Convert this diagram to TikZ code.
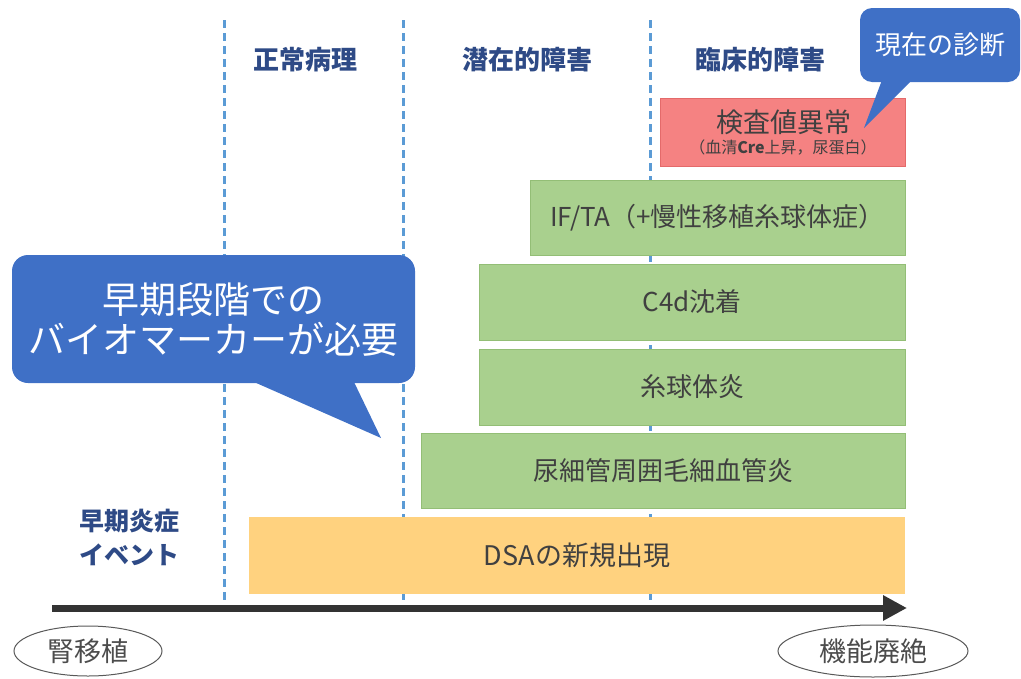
\documentclass[tikz,border=0pt]{standalone}
\usepackage{fontspec}
\newfontfamily\jp{Noto Sans CJK JP}
\usetikzlibrary{arrows.meta,shapes.geometric}
\definecolor{dashblue}{HTML}{5B9BD5}
\definecolor{headblue}{HTML}{2E4A86}
\definecolor{calloutblue}{HTML}{3F70C6}
\definecolor{greenfill}{HTML}{A9D08E}
\definecolor{greenedge}{HTML}{93BE76}
\definecolor{redfill}{HTML}{F58282}
\definecolor{rededge}{HTML}{E46A6A}
\definecolor{orangefill}{HTML}{FFD27F}
\definecolor{textgray}{HTML}{404040}
\begin{document}
\begin{tikzpicture}[x=1pt,y=-1pt,
  every node/.style={font=\jp, inner sep=0pt},
  phase/.style={draw=dashblue, line width=3pt, dash pattern=on 8pt off 5pt},
  head/.style={font=\jp\bfseries\fontsize{26}{30}\selectfont, text=headblue},
  greenbox/.style={draw=greenedge, line width=0.8pt, fill=greenfill, text=textgray, font=\jp\fontsize{26}{30}\selectfont},
  redbox/.style={draw=rededge, line width=0.8pt, fill=redfill, text=textgray, align=center},
  orangebox/.style={fill=orangefill, text=textgray, font=\jp\fontsize{27}{30}\selectfont},
  callout/.style={fill=calloutblue, rounded corners=16pt, text=white, align=center},
  endpoint/.style={ellipse, draw=black!65, line width=1pt, fill=white, text=black!70, font=\jp\fontsize{27}{30}\selectfont},
  timeline/.style={draw=black!80, line width=7pt, -{Triangle[length=24pt,width=24pt]}}
]
\useasboundingbox (0,0) rectangle (1021,678);

% phase separators
\coordinate (d1t) at (224,20); \coordinate (d1b) at (224,608);
\coordinate (d2t) at (403,20); \coordinate (d2b) at (403,608);
\coordinate (d3t) at (650,20); \coordinate (d3b) at (650,608);
\draw[phase] (d1t) -- (d1b);
\draw[phase] (d2t) -- (d2b);
\draw[phase] (d3t) -- (d3b);

% headers
\node[head] (h1) at (305,60) {正常病理};
\node[head] (h2) at (527,60) {潜在的障害};
\node[head] (h3) at (760,60) {臨床的障害};

% boxes
\node[redbox, minimum width=245pt, minimum height=68pt] (lab) at (783,132) {};
\node[text=textgray, font=\jp\fontsize{27}{30}\selectfont] (labt) at (784,122) {検査値異常};
\node[text=textgray, font=\jp\fontsize{16}{18}\selectfont] (labs) at (783,148) {（血清\textbf{Cre}上昇，尿蛋白）};

\node[greenbox, minimum width=375pt, minimum height=75pt] (ifta) at (717.5,217.5) {IF/TA（+慢性移植糸球体症）};
\node[greenbox, minimum width=426pt, minimum height=76pt] (c4d) at (692,302) {C4d沈着};
\node[greenbox, minimum width=426pt, minimum height=76pt] (glom) at (692,387) {糸球体炎};
\node[greenbox, minimum width=484pt, minimum height=75pt] (ptc) at (663,470.5) {尿細管周囲毛細血管炎};
\node[orangebox, minimum width=656pt, minimum height=77pt] (dsa) at (577,555.5) {DSAの新規出現};

% left label
\node[head, align=center, font=\jp\bfseries\fontsize{25}{34}\selectfont] (early) at (129,537) {早期炎症\\イベント};

% timeline
\node[endpoint, minimum width=148pt, minimum height=50pt] (tx) at (88,651) {腎移植};
\node[endpoint, minimum width=190pt, minimum height=52pt] (loss) at (873,651) {機能廃絶};
\coordinate (tl0) at (52,608);
\coordinate (tl1) at (907,608);
\draw[timeline] (tl0) -- (tl1);

% big callout
\node[callout, minimum width=403pt, minimum height=128pt, font=\jp\fontsize{37}{40}\selectfont] (need) at (213.5,319) {早期段階での\\バイオマーカーが必要};
\coordinate (needtip) at (381,438);
\fill[calloutblue] (254,382) -- (needtip) -- (354,382) -- cycle;

% small callout
\node[callout, rounded corners=12pt, minimum width=160pt, minimum height=74pt, font=\jp\fontsize{26}{30}\selectfont] (now) at (940,45) {現在の診断};
\coordinate (nowtip) at (864,128);
\fill[calloutblue] (882,80) -- (nowtip) -- (912,80) -- cycle;
\end{tikzpicture}
\end{document}
